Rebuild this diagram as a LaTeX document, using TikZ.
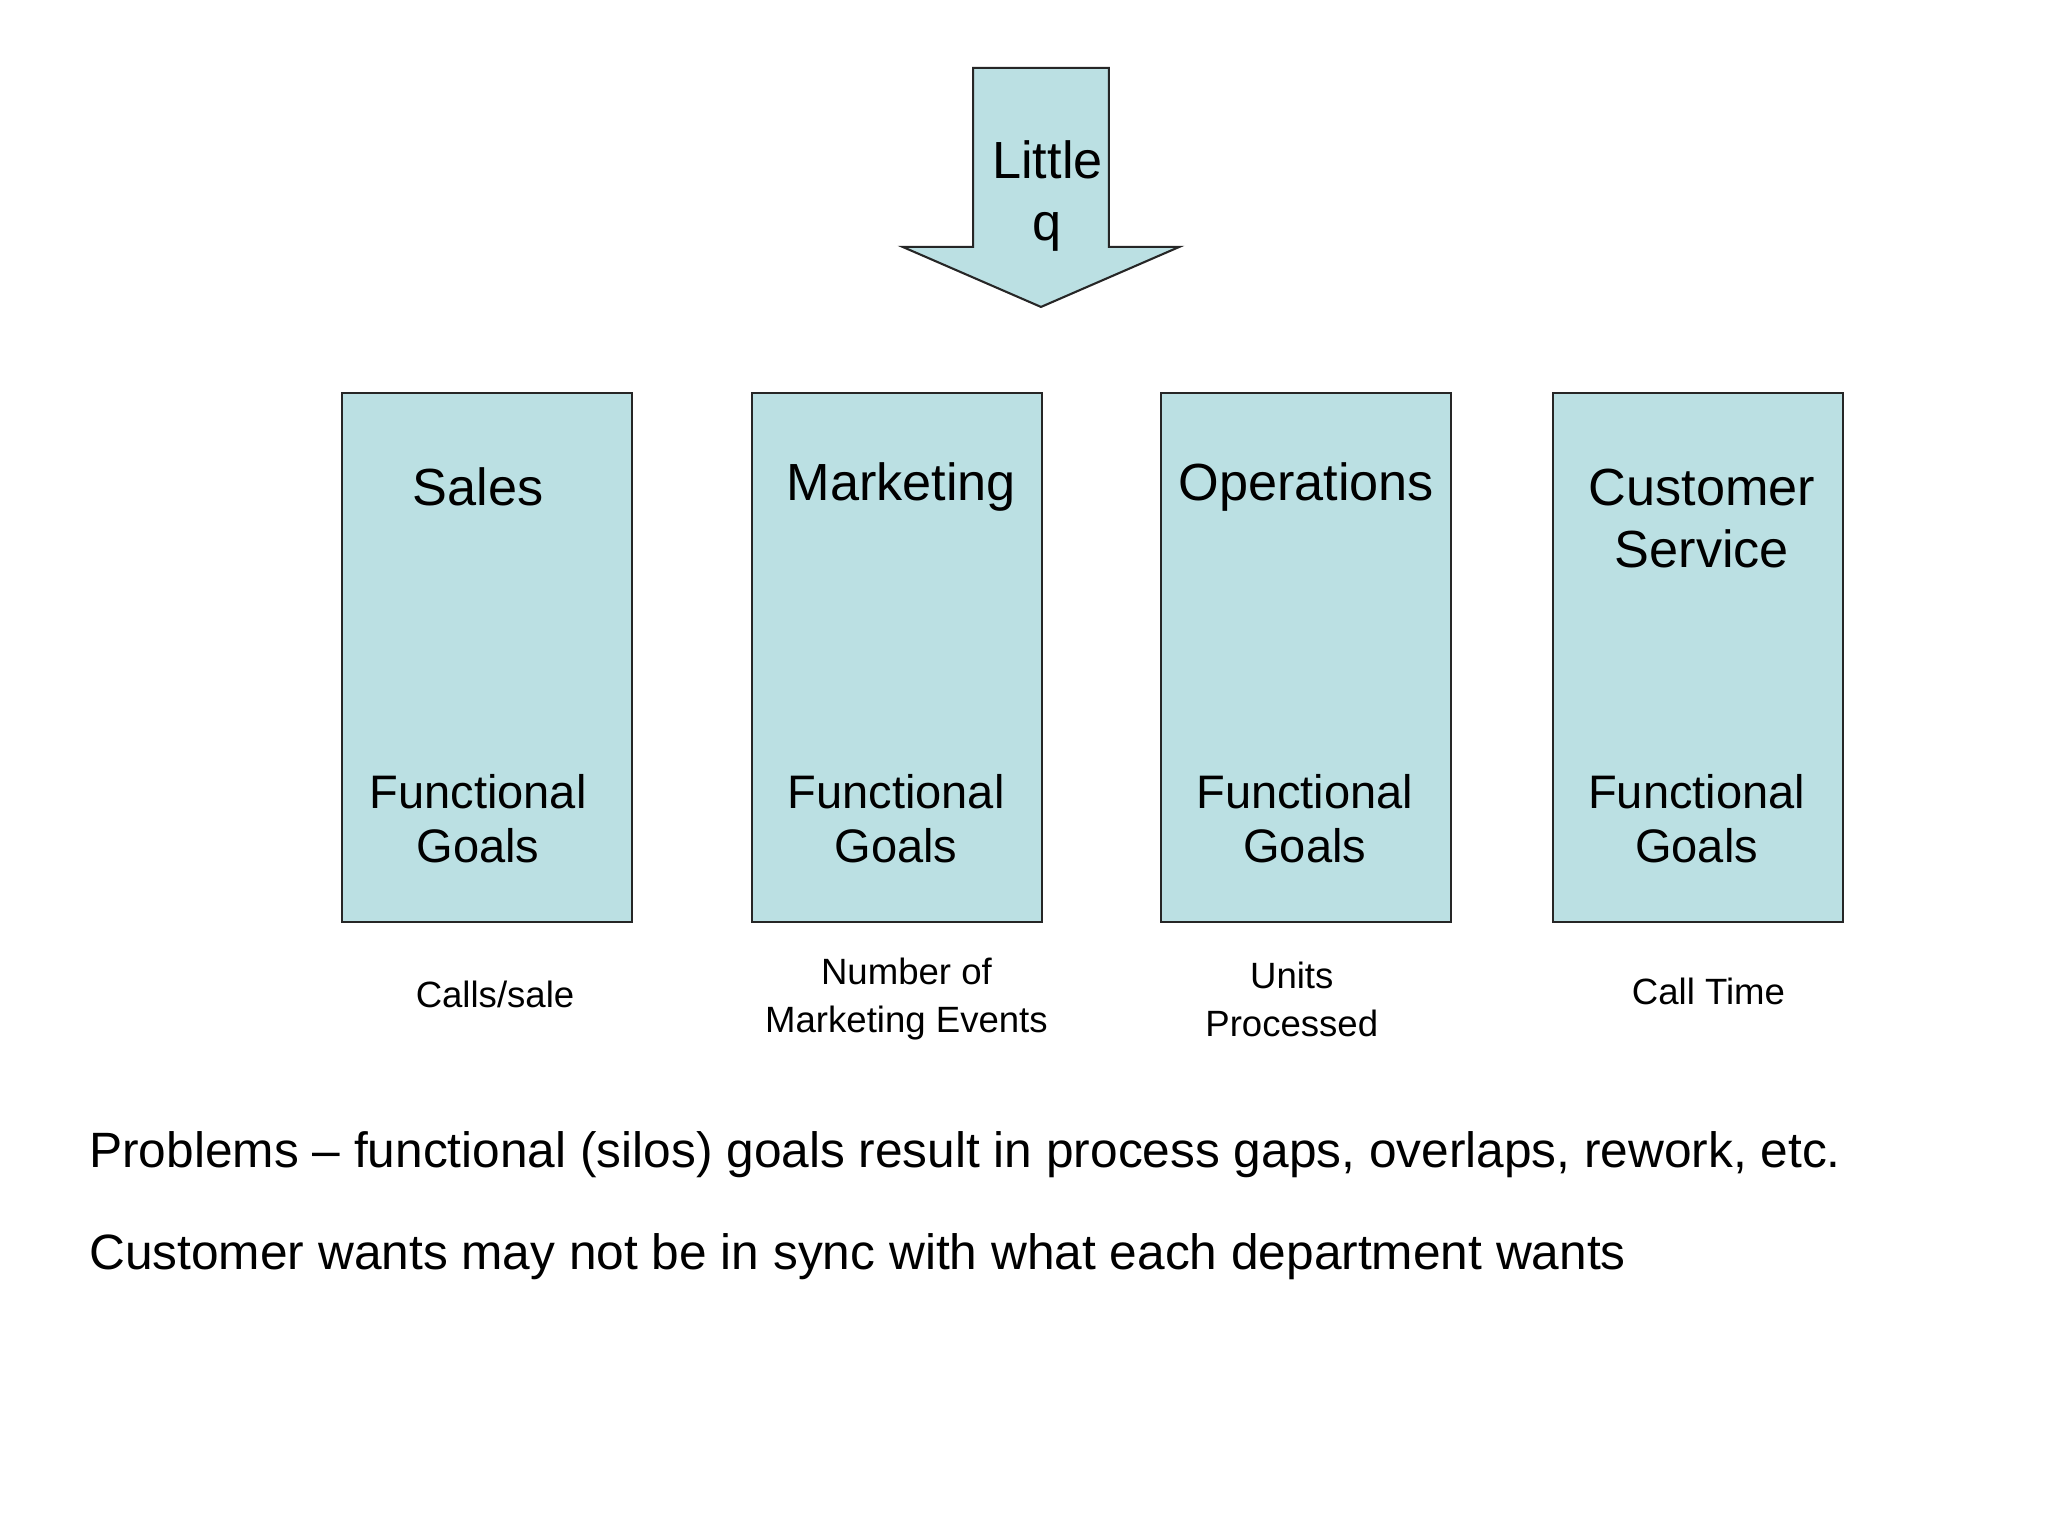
\documentclass[tikz,border=0pt]{standalone}
\usepackage{fontspec}
\setmainfont{Liberation Sans}
\definecolor{boxfill}{HTML}{BBE0E3}
\begin{document}
\begin{tikzpicture}[x=0.5pt,y=-0.5pt,
  box/.style={draw=black!85,fill=boxfill,line width=0.8pt,minimum width=111pt,minimum height=202.5pt,anchor=north west,inner sep=0},
  ttl/.style={font=\fontsize{20}{23.5}\selectfont,align=center},
  fg/.style={font=\fontsize{18}{20.5}\selectfont,align=center},
  lbl/.style={font=\fontsize{14}{18.5}\selectfont,align=center},
  big/.style={font=\fontsize{19}{23}\selectfont,anchor=west,inner sep=0}]
\useasboundingbox (0,0) rectangle (1568,1176);
\draw[fill=boxfill,draw=black!85,line width=0.8pt] (745,52) -- (849,52) -- (849,189) -- (903,189) -- (797,235) -- (691,189) -- (745,189) -- cycle;
\node[ttl] (lq) at (802,150) {Little\\q};
\node[box] (s) at (261,300) {};
\node[box] (m) at (575,300) {};
\node[box] (o) at (888,300) {};
\node[box] (c) at (1188,300) {};
\node[ttl] (st) at (366,373) {Sales};
\node[ttl] (mt) at (690,373) {Marketing};
\node[ttl] (ot) at (1000,373) {Operations};
\node[ttl] (ct) at (1303,397) {Customer\\Service};
\node[fg] (sf) at (366,627) {Functional\\Goals};
\node[fg] (mf) at (686,627) {Functional\\Goals};
\node[fg] (of) at (999,627) {Functional\\Goals};
\node[fg] (cf) at (1299,627) {Functional\\Goals};
\node[lbl] (sl) at (379,761) {Calls/sale};
\node[lbl] (ml) at (694,765) {Number of\\Marketing Events};
\node[lbl] (ol) at (989,765) {Units\\Processed};
\node[lbl] (cl) at (1308,759) {Call Time};
\node[big] (p1) at (68,884) {Problems – functional (silos) goals result in process gaps, overlaps, rework, etc.};
\node[big] (p2) at (68,962) {Customer wants may not be in sync with what each department wants};
\end{tikzpicture}
\end{document}
